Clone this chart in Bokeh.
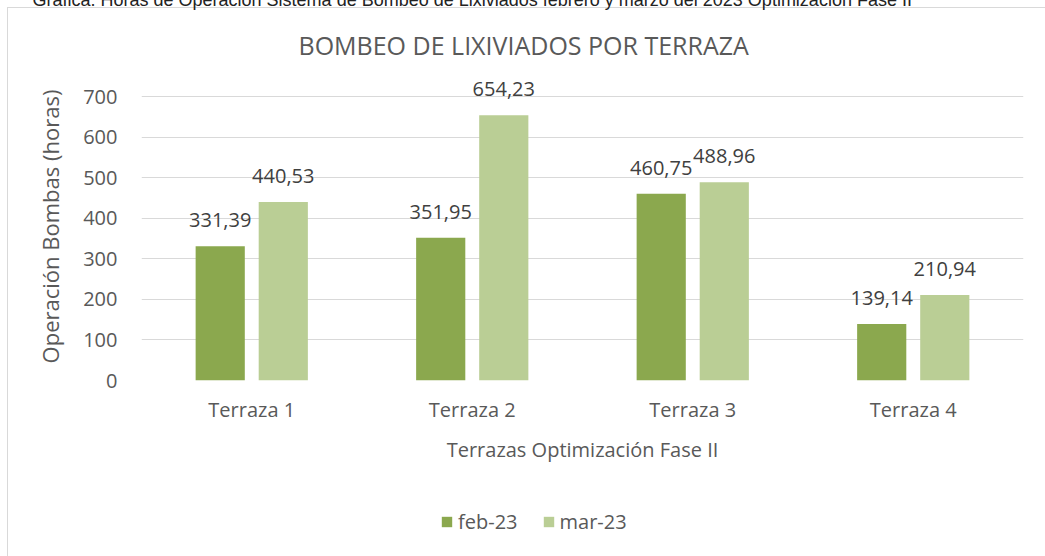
from bokeh.plotting import figure
from bokeh.layouts import column
from bokeh.models import (ColumnDataSource, FactorRange, Range1d, FixedTicker, Title,
                          Legend, LegendItem)
from bokeh.transform import dodge
from bokeh.embed import file_html
from bokeh.resources import INLINE
from bokeh.core.properties import value

# ---- data ----
categories = ["Terraza 1", "Terraza 2", "Terraza 3", "Terraza 4"]
feb_23 = [331.39, 351.95, 460.75, 139.14]
mar_23 = [440.53, 654.23, 488.96, 210.94]
series_names = ["feb-23", "mar-23"]
y_ticks = [0, 100, 200, 300, 400, 500, 600, 700]

title_text = "BOMBEO DE LIXIVIADOS POR TERRAZA"
caption_text = ("Gráfica. Horas de Operación Sistema de Bombeo de Lixiviados febrero y marzo "
                "del 2023 Optimización Fase II")
x_title = "Terrazas Optimización Fase II"
y_title = "Operación Bombas (horas)"

def fmt(v):
    return f"{v:.2f}".replace(".", ",")

src = ColumnDataSource(dict(
    cat=categories,
    feb=feb_23,
    mar=mar_23,
    feb_lbl=[fmt(v) for v in feb_23],
    mar_lbl=[fmt(v) for v in mar_23],
))

FEB = "#8BA84E"
MAR = "#BACE95"
TXT = "#595959"
LBL = "#404040"
FONT = "Open Sans"
BD = "#D9D9D9"
SHIFT = 18    # canvas starts above the page top (caption cut off as in the reference)
LEG_H = 61    # height of the legend strip at the bottom

W = 1045
H_MAIN = 556 - LEG_H + SHIFT
p = figure(
    width=W, height=H_MAIN,
    x_range=FactorRange(factors=categories, range_padding=0),
    y_range=Range1d(0, 760),
    output_backend="svg", toolbar_location=None,
    min_border_left=141, min_border_right=22, min_border_top=90, min_border_bottom=115,
    background_fill_color=None, border_fill_color=None,
)
p.styles = {
    "margin-top": f"-{SHIFT}px",
    "background": (f"linear-gradient({BD},{BD}) 7px {7 + SHIFT}px / 1px 100% no-repeat, "
                   f"linear-gradient({BD},{BD}) 7px {7 + SHIFT}px / 100% 1px no-repeat, #FFFFFF"),
}
p.outline_line_color = None

bw = 0.223
off = 0.143
p.vbar(x=dodge("cat", -off, range=p.x_range), top="feb", width=bw, source=src,
       fill_color=FEB, line_color=None)
p.vbar(x=dodge("cat", off, range=p.x_range), top="mar", width=bw, source=src,
       fill_color=MAR, line_color=None)

p.text(x=dodge("cat", -off, range=p.x_range), y="feb", text="feb_lbl", source=src,
       y_offset=-26, text_align="center", text_baseline="alphabetic",
       text_font=value(FONT), text_font_size="20px", text_color=LBL)
p.text(x=dodge("cat", off, range=p.x_range), y="mar", text="mar_lbl", source=src,
       y_offset=-26, text_align="center", text_baseline="alphabetic",
       text_font=value(FONT), text_font_size="20px", text_color=LBL)

# axes
p.xgrid.grid_line_color = None
p.ygrid.grid_line_color = BD
p.ygrid.grid_line_width = 1
p.yaxis.ticker = FixedTicker(ticks=y_ticks)
for ax in (p.xaxis[0], p.yaxis[0]):
    ax.axis_line_color = None
    ax.major_tick_line_color = None
    ax.minor_tick_line_color = None
    ax.major_tick_out = 0
    ax.major_tick_in = 0
    ax.major_label_text_font = FONT
    ax.major_label_text_font_size = "20px"
    ax.major_label_text_color = TXT
    ax.axis_label_text_font = FONT
    ax.axis_label_text_font_style = "normal"
    ax.axis_label_text_color = TXT
p.yaxis.major_label_standoff = 24
p.yaxis.axis_label = y_title
p.yaxis.axis_label_text_font_size = "22px"
p.yaxis.axis_label_standoff = 15
p.xaxis.major_label_standoff = 15
p.xaxis.axis_label = x_title
p.xaxis.axis_label_text_font_size = "20px"
p.xaxis.axis_label_standoff = 10

# titles
p.add_layout(Title(text=title_text, align="left", offset=157, standoff=22,
                   text_font=FONT, text_font_size="25px", text_font_style="normal",
                   text_color=TXT), "above")
p.add_layout(Title(text=caption_text, align="left", offset=-109, standoff=9,
                   text_font="Liberation Sans", text_font_size="18px",
                   text_font_style="normal", text_color="#222222"), "above")

# legend strip (its frame is aligned with the main plot's frame by the column layout)
lg = figure(width=W, height=LEG_H, output_backend="svg", toolbar_location=None,
            x_range=FactorRange(factors=categories, range_padding=0),
            y_range=Range1d(-2000, -1000),
            x_axis_type=None, y_axis_type=None,
            min_border_left=0, min_border_right=0, min_border_top=0, min_border_bottom=0,
            background_fill_color=None, border_fill_color=None)
lg.styles = {"background": f"linear-gradient({BD},{BD}) 7px 0px / 1px 100% no-repeat, #FFFFFF"}
lg.outline_line_color = None
lg.grid.visible = False
# key renderers: zero-size bars outside this strip's range, only their legend swatches show
k_feb = lg.vbar(x="cat", top="feb", bottom="feb", width=0, source=src,
                fill_color=FEB, line_color=None)
k_mar = lg.vbar(x="cat", top="mar", bottom="mar", width=0, source=src,
                fill_color=MAR, line_color=None)
legend = Legend(items=[LegendItem(label=series_names[0], renderers=[k_feb]),
                       LegendItem(label=series_names[1], renderers=[k_mar])],
                location=(299, 21), orientation="horizontal",
                padding=0, margin=0, spacing=24, label_standoff=5,
                glyph_width=13, glyph_height=13, label_height=13,
                label_text_font=FONT, label_text_font_size="20px", label_text_color=TXT,
                border_line_color=None, background_fill_color=None)
lg.add_layout(legend, "center")

layout = column(p, lg, spacing=0)
open("out.html", "w").write(file_html(layout, INLINE))
